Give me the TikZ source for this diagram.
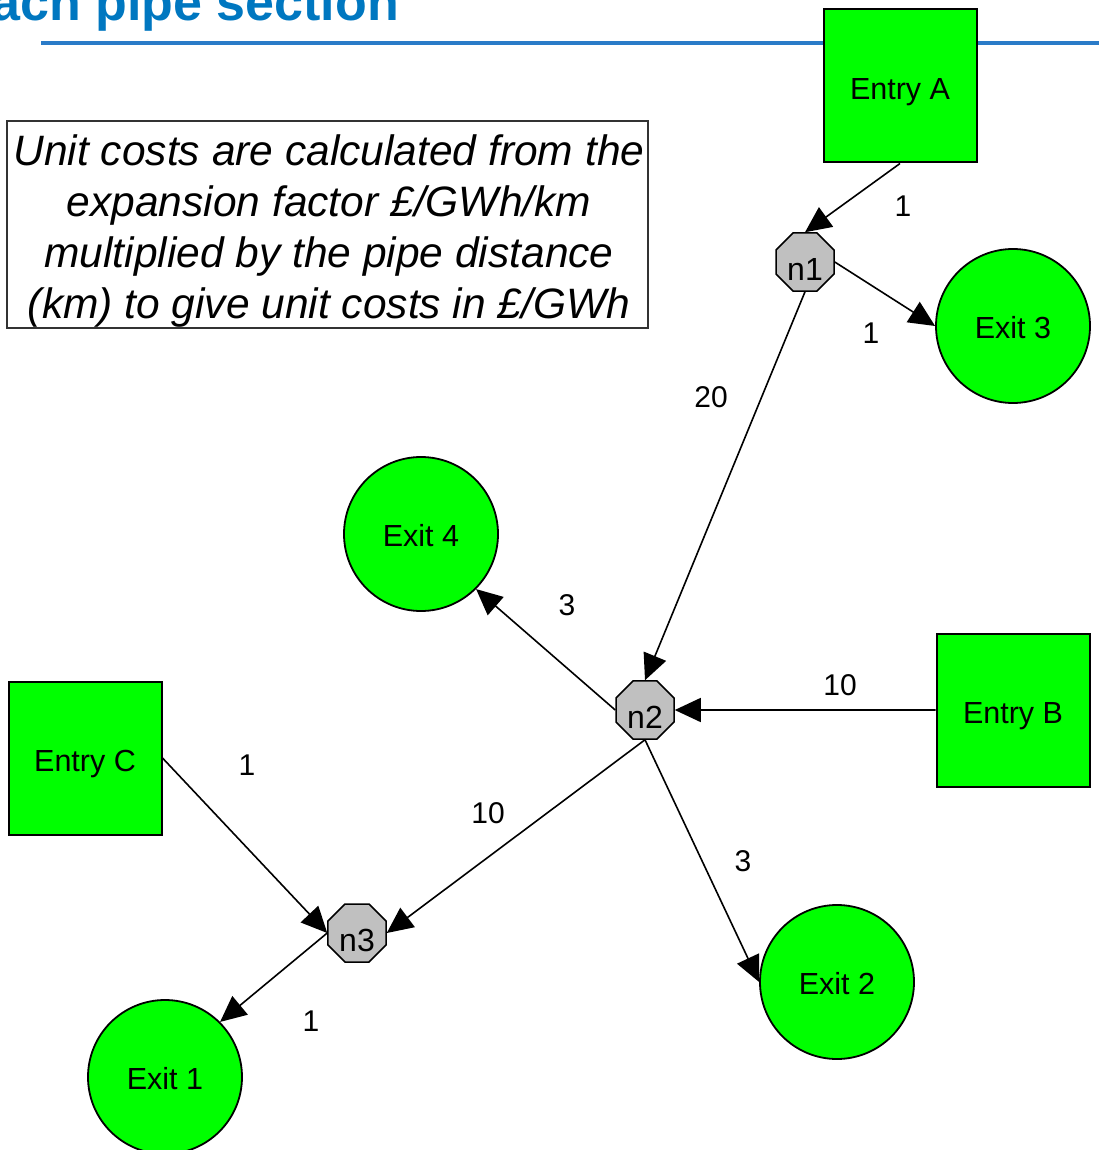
\documentclass[tikz,border=0pt]{standalone}
\usepackage{fontspec}
\setmainfont{Liberation Sans}
\usetikzlibrary{arrows.meta,shapes.geometric}
\definecolor{nodegreen}{HTML}{00FF00}
\definecolor{junctiongray}{HTML}{C0C0C0}
\definecolor{titleblue}{HTML}{0077C0}
\definecolor{ruleblue}{HTML}{2A7BC8}
\definecolor{noteframe}{HTML}{333333}

\begin{document}
\begin{tikzpicture}[x=1pt,y=-1pt,
  entry/.style={draw=black, line width=2pt, fill=nodegreen, minimum size=153pt,
    inner sep=0pt, text height=27pt, text depth=0pt,
    font=\fontsize{30.5}{36}\selectfont},
  exitnode/.style={circle, draw=black, line width=1.8pt, fill=nodegreen,
    minimum size=154pt, inner sep=0pt, text height=25pt, text depth=0pt,
    font=\fontsize{30.5}{36}\selectfont},
  junction/.style={regular polygon, regular polygon sides=8, draw=black,
    line width=1.5pt, fill=junctiongray, minimum size=62.8pt, inner sep=0pt,
    text height=37pt, text depth=0pt, font=\fontsize{32}{36}\selectfont},
  pipe/.style={line width=1.6pt, -{Triangle[length=26pt,width=24pt]}},
  cost/.style={font=\fontsize{30}{34}\selectfont, inner sep=0pt}
]
\useasboundingbox (0,0) rectangle (1099,1150);
\clip (0,0) rectangle (1099,1150);

% heading and rule
\node[anchor=base east, inner sep=0pt, text=titleblue,
  font=\fontsize{52}{60}\selectfont\bfseries] (title) at (399,21) {ach pipe section};
\draw[ruleblue, line width=3.5pt] (41,43) -- (1099,43);

% explanatory note: frame and text
\node[draw=noteframe, line width=1.5pt, fill=white, minimum width=641pt,
  minimum height=207pt, inner sep=0pt] (note) at (327.5,224.5) {};
\node[inner sep=0pt, align=center, font=\fontsize{42.5}{51}\selectfont\itshape]
  (notetext) at (329,231)
  {Unit costs are calculated from the\\expansion factor £/GWh/km\\
   multiplied by the pipe distance\\(km) to give unit costs in £/GWh};

% entry points
\node[entry] (entA) at (900,86) {Entry A};
\node[entry] (entB) at (1013,710) {Entry B};
\node[entry] (entC) at (85,758) {Entry C};

% exit points
\node[exitnode] (ex1) at (165,1077) {Exit 1};
\node[exitnode] (ex2) at (837,982) {Exit 2};
\node[exitnode] (ex3) at (1013,326) {Exit 3};
\node[exitnode] (ex4) at (421,534) {Exit 4};

% junctions
\node[junction] (n1) at (805,262) {n1};
\node[junction] (n2) at (645,710) {n2};
\node[junction] (n3) at (357,933) {n3};

% pipe sections
\draw[pipe] (entA.south) -- (n1.north);
\draw[pipe] (n1.east) -- (ex3.west);
\draw[pipe] (n1.south) -- (n2.north);
\draw[pipe] (n2.west) -- (ex4.south east);
\draw[pipe] (entB.west) -- (n2.east);
\draw[pipe] (n2.south) -- (n3.east);
\draw[pipe] (n2.south) -- (ex2.west);
\draw[pipe] (entC.east) -- (n3.west);
\draw[pipe] (n3.west) -- (ex1.north east);

% pipe distances
\node[cost] (dA1) at (903,206) {1};
\node[cost] (d13) at (871,333) {1};
\node[cost] (d12) at (711,397) {20};
\node[cost] (d24) at (567,605) {3};
\node[cost] (dB2) at (840,685) {10};
\node[cost] (d23) at (488,813) {10};
\node[cost] (d2x) at (743,861) {3};
\node[cost] (dC3) at (247,765) {1};
\node[cost] (d31) at (311,1021) {1};
\end{tikzpicture}
\end{document}
